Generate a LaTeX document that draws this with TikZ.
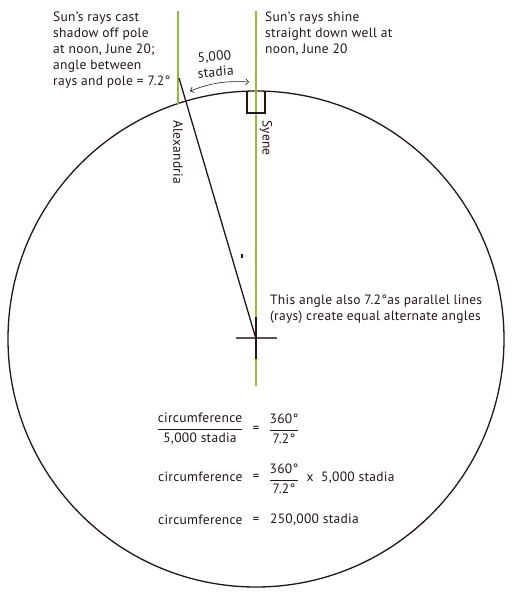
\documentclass[tikz,border=0pt]{standalone}
\usepackage{fontspec}
\setmainfont{PT Sans}[LetterSpace = 2]
\usepackage{amsmath}
\usetikzlibrary{arrows.meta}

\definecolor{rayGreen}{RGB}{140,190,60}
\definecolor{inkBlack}{RGB}{35,22,22}

\begin{document}
\begin{tikzpicture}
    [x = 1pt, y = -1pt,
     textNode/.style = {inner sep = 0pt, align = left, anchor = north west,
                        font = \fontsize{13.5}{15.8}\selectfont, inkBlack},
     townNode/.style = {inner sep = 0pt, rotate = -90, anchor = west,
                        font = \fontsize{13.5}{15.8}\selectfont, inkBlack},
     mathNode/.style = {inner sep = 0pt, font = \fontsize{13.5}{15.8}\selectfont,
                        inkBlack},
     ray/.style = {rayGreen, line width = 1.4pt},
     earth/.style = {inkBlack, line width = 1.3pt},
     well/.style = {inkBlack, line width = 2.8pt},
     gapArrow/.style = {inkBlack, line width = 0.6pt,
                        {Straight Barb[length = 3pt]}-{Straight Barb[length = 3pt]}}]

    \useasboundingbox (0,0) rectangle (514,600);

    % the earth
    \coordinate (centre) at (256,339);
    \draw [earth] (centre) circle [radius = 248pt];

    % rays of the sun
    \coordinate (alexTop)   at (178,11);
    \coordinate (alexFoot)  at (178,104);
    \coordinate (syeneTop)  at (256,11);
    \coordinate (syeneFoot) at (256,386);
    \draw [ray] (alexTop) -- (alexFoot);
    \draw [ray] (syeneTop) -- (syeneFoot);

    % well at Syene
    \coordinate (wellA) at (247,91);
    \coordinate (wellB) at (247,113);
    \coordinate (wellC) at (265,113);
    \coordinate (wellD) at (265,91);
    \draw [well] (wellA) -- (wellB) -- (wellC) -- (wellD);

    % pole at Alexandria, down to the centre
    \coordinate (poleTop) at (179,78);
    \draw [earth] (poleTop) -- (centre);

    % cross at the centre
    \coordinate (crossW) at (236,338);
    \coordinate (crossE) at (277,338);
    \coordinate (crossN) at (256,317);
    \coordinate (crossS) at (256,359);
    \draw [earth, draw = inkBlack!75] (crossW) -- (crossE);
    \draw [earth] (crossN) -- (crossS);

    \coordinate (tickA) at (242,254);
    \coordinate (tickB) at (242,257.5);
    \draw [line width = 1.2pt, inkBlack!80!blue] (tickA) -- (tickB);

    % distance between the towns
    \coordinate (arcL) at (190,91);
    \coordinate (arcR) at (249,82);
    \draw [gapArrow] (arcL) to [bend left = 12] (arcR);
    \node [mathNode, align = center, rotate = 5] (stadia) at (215,64)
          {5,000\\stadia};

    % towns
    \node [townNode] (alexandria) at (178,120) {Alexandria};
    \node [townNode] (syene)      at (266,120) {Syene};

    % notes
    \node [textNode] (poleNote) at (53,12)
          {Sun's rays cast\\shadow off pole\\at noon, June 20;\\angle between\\rays and pole = 7.2°};
    \node [textNode] (wellNote) at (265,12)
          {Sun's rays shine\\straight down well at\\noon, June 20};
    \node [textNode] (angleNote) at (270,295)
          {This angle also 7.2°as parallel lines\\(rays) create equal alternate angles};

    % working
    \node [mathNode] (fracA) at (200,429)
          {$\dfrac{\text{circumference}}{\text{5,000 stadia}}$};
    \node [mathNode] (eqA) at (256,429) {=};
    \node [mathNode] (fracB) at (284,429) {$\dfrac{\text{360°}}{\text{7.2°}}$};

    \node [mathNode, anchor = west] (circB) at (158,477) {circumference};
    \node [mathNode] (eqB) at (256,477) {=};
    \node [mathNode] (fracC) at (284,479) {$\dfrac{\text{360°}}{\text{7.2°}}$};
    \node [mathNode] (timesB) at (310,478) {x};
    \node [mathNode, anchor = west] (stadiaB) at (321,478) {5,000 stadia};

    \node [mathNode, anchor = west] (circC) at (158,520) {circumference};
    \node [mathNode] (eqC) at (256,520) {=};
    \node [mathNode, anchor = west] (result) at (270,520) {250,000 stadia};
\end{tikzpicture}
\end{document}
